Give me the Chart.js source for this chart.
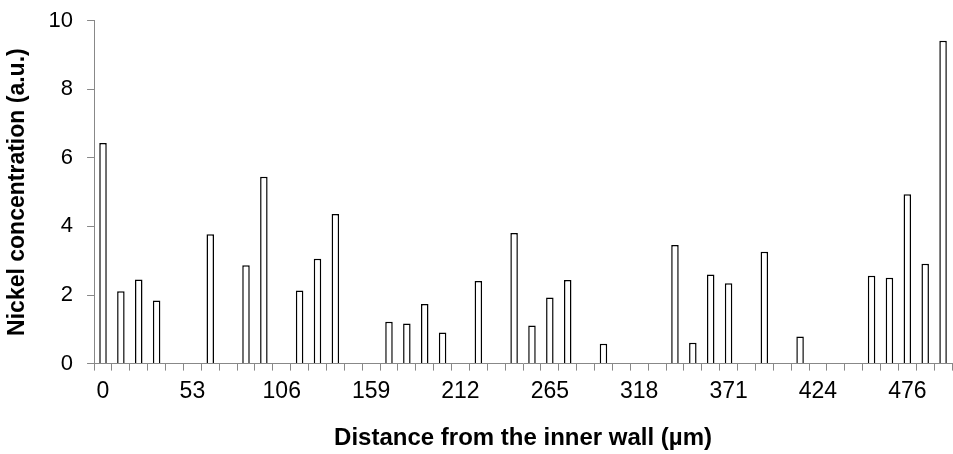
<!DOCTYPE html>
<html>
<head>
<meta charset="utf-8">
<script src="https://cdn.jsdelivr.net/npm/chart.js@4/dist/chart.umd.min.js"></script>
<style>
    html, body { margin: 0; padding: 0; background: #fff; }
    .chart-box { position: relative; width: 953px; height: 454px; }
</style>
</head>
<body>
<div class="chart-box">
    <canvas id="nickelChart"></canvas>
</div>
<script>
// distance labels along the wall, only every fifth step is printed
const distanceLabels = [
    '0', '', '', '', '',
    '53', '', '', '', '',
    '106', '', '', '', '',
    '159', '', '', '', '',
    '212', '', '', '', '',
    '265', '', '', '', '',
    '318', '', '', '', '',
    '371', '', '', '', '',
    '424', '', '', '', '',
    '476', '', ''
];

// nickel concentration per step (null = nothing measured)
const nickelValues = [
    6.43, 2.11, 2.45, 1.84, null,
    null, 3.77, null, 2.87, 5.45,
    null, 2.13, 3.06, 4.36, null,
    null, 1.22, 1.17, 1.74, 0.91,
    null, 2.41, null, 3.81, 1.11,
    1.93, 2.44, null, 0.58, null,
    null, null, 3.46, 0.61, 2.60,
    2.34, null, 3.26, null, 0.79,
    null, null, null, 2.56, 2.50,
    4.94, 2.91, 9.41
];

const yTicks = [0, 2, 4, 6, 8, 10];

const axisGray = '#888888';
const fontFamily = '"Liberation Sans", Arial, sans-serif';

const ctx = document.getElementById('nickelChart').getContext('2d');
new Chart(ctx, {
    type: 'bar',
    data: {
        labels: distanceLabels,
        datasets: [{
            label: 'Nickel',
            data: nickelValues,
            backgroundColor: '#ffffff',
            borderColor: '#000000',
            borderWidth: 1.5,
            categoryPercentage: 1,
            barPercentage: 0.42
        }]
    },
    options: {
        responsive: true,
        maintainAspectRatio: false,
        animation: false,
        layout: {
            padding: { left: 0, right: 1, top: 17, bottom: 1 }
        },
        plugins: {
            legend: { display: false },
            tooltip: { enabled: false }
        },
        scales: {
            x: {
                grid: {
                    offset: true,
                    drawOnChartArea: false,
                    drawTicks: true,
                    tickLength: 7,
                    color: axisGray
                },
                border: { color: axisGray, width: 1 },
                ticks: {
                    autoSkip: false,
                    maxRotation: 0,
                    minRotation: 0,
                    padding: 7,
                    color: '#000',
                    font: { family: fontFamily, size: 23 }
                },
                title: {
                    display: true,
                    text: 'Distance from the inner wall (µm)',
                    color: '#000',
                    font: { family: fontFamily, size: 24, weight: 'bold' },
                    padding: { top: 12, bottom: 0 }
                }
            },
            y: {
                min: 0,
                max: 10,
                afterBuildTicks: (axis) => {
                    axis.ticks = yTicks.map(v => ({ value: v }));
                },
                grid: {
                    drawOnChartArea: false,
                    drawTicks: true,
                    tickLength: 7,
                    color: axisGray
                },
                border: { color: axisGray, width: 1 },
                ticks: {
                    padding: 14,
                    color: '#000',
                    // small line height so the top label does not push the plot down
                    font: { family: fontFamily, size: 22, lineHeight: 0.6 }
                },
                title: {
                    display: true,
                    text: 'Nickel concentration (a.u.)',
                    color: '#000',
                    font: { family: fontFamily, size: 23, weight: 'bold' },
                    padding: { top: 4, bottom: 3 }
                }
            }
        }
    }
});
</script>
</body>
</html>
